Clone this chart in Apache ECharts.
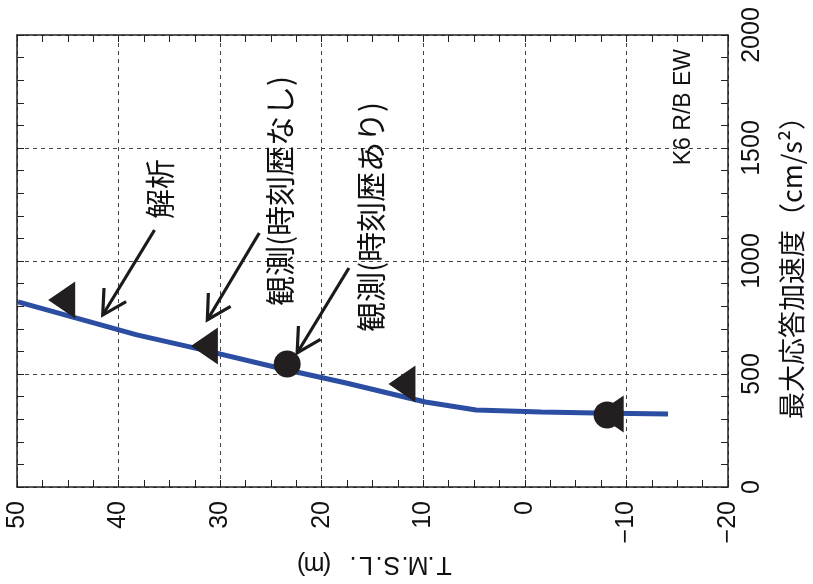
<!DOCTYPE html>
<html><head><meta charset="utf-8">
<script src="https://cdn.jsdelivr.net/npm/echarts@6/dist/echarts.min.js"></script>
<style>html,body{margin:0;padding:0;background:#fff}#c{width:813px;height:584px}</style>
</head><body><div id="c"></div>
<script>
// T.M.S.L. (m) vs max response acceleration (cm/s2)
const tmslTicks = [50, 40, 30, 20, 10, 0, -10, -20];
const accTicks = [0, 500, 1000, 1500, 2000];
const analysisTmsl = [49.9, 38.2, 31.7, 23.5, 17.6, 9.8, 4.8, -1.6, -6.9, -14.1];
const analysisAcc  = [819, 673, 607, 519, 460, 376, 341, 332, 327, 323];
const obsNoTHTmsl = [45.6, 31.55, 12.1, -8.4];
const obsNoTHAcc  = [827, 624, 456, 323];
const obsTHTmsl = [23.4, -8.1];
const obsTHAcc  = [544, 319];
// annotation arrows: [tailTmsl, tailAcc, tipTmsl, tipAcc]
const arrowTail = [[36.46, 1137], [26.15, 1124], [17.32, 969]];
const arrowTip  = [[41.56, 761], [31.26, 739], [22.42, 593]];
const labelTexts = ['解析', '観測(時刻歴なし)', '観測(時刻歴あり)', 'K6 R/B EW'];
const labelPos = [[35.97, 1319], [24.19, 1310], [15.16, 1195], [-15.65, 1681]];

const NUMF = '"Liberation Sans Narrow","Liberation Sans",sans-serif';
const CJK = '"Noto Sans CJK JP",sans-serif';
const fmt = v => (v < 0 ? '\u2212' + (-v) : '' + v);

const chart = echarts.init(document.getElementById('c'), null, {renderer: 'canvas'});
const axisLine = {show: true, onZero: false, lineStyle: {color: '#222', width: 1.5}};
const tick = {show: true, inside: true, length: 7, lineStyle: {color: '#222', width: 1}};
const minor = {show: true, length: 7, lineStyle: {color: '#222', width: 1}};
const split = {show: true, lineStyle: {color: '#444', width: 1, type: [4, 4]}};

const tmslName = 'T.M.S.L. (m)';
const tmslRich = tmslName.split('').map(c => '{c|' + (c === ' ' ? '\u00a0' : c) + '}').join('');

const option = {
  animation: false,
  backgroundColor: '#fff',
  grid: {left: 17, right: 81, top: 35, bottom: 97},
  xAxis: [{
    type: 'value', min: -20, max: 50, interval: 10, inverse: true, position: 'bottom',
    axisLine, axisTick: tick, minorTick: Object.assign({splitNumber: 4}, minor), splitLine: split,
    axisLabel: {rotate: 90, fontSize: 25, fontFamily: NUMF, color: '#111', margin: 14, formatter: fmt},
    name: tmslRich, nameLocation: 'middle', nameRotate: 180, nameGap: 64,
    nameTextStyle: {rich: {c: {width: 13, align: 'center', fontSize: 25, fontFamily: NUMF, color: '#111'}}}
  }, {
    type: 'value', min: -20, max: 50, interval: 10, inverse: true, position: 'top',
    axisLine, axisTick: tick, minorTick: Object.assign({splitNumber: 4}, minor), splitLine: {show: false},
    axisLabel: {show: false}
  }],
  yAxis: [{
    type: 'value', min: 0, max: 2000, interval: 500, position: 'right',
    axisLine, axisTick: tick, minorTick: Object.assign({splitNumber: 5}, minor), splitLine: split,
    axisLabel: {rotate: 90, fontSize: 25, fontFamily: NUMF, color: '#111', margin: 12, formatter: fmt},
    name: '最大応答加速度（cm/s²）', nameLocation: 'middle', nameRotate: 90, nameGap: 50,
    nameTextStyle: {fontSize: 27, fontFamily: CJK, color: '#111'}
  }, {
    type: 'value', min: 0, max: 2000, interval: 500, position: 'left',
    axisLine, axisTick: tick, minorTick: Object.assign({splitNumber: 5}, minor), splitLine: {show: false},
    axisLabel: {show: false}
  }],
  series: [{
    type: 'line', name: '解析', xAxisIndex: 0, yAxisIndex: 0,
    data: analysisTmsl.map((t, i) => [t, analysisAcc[i]]),
    showSymbol: false, lineStyle: {color: '#2c4ea2', width: 5}, z: 2
  }, {
    type: 'scatter', name: '観測(時刻歴なし)',
    data: obsNoTHTmsl.map((t, i) => [t, obsNoTHAcc[i]]),
    symbol: 'triangle', symbolSize: [37, 27], symbolRotate: 90,
    itemStyle: {color: '#231f20', opacity: 1}, z: 3
  }, {
    type: 'scatter', name: '観測(時刻歴あり)',
    data: obsTHTmsl.map((t, i) => [t, obsTHAcc[i]]),
    symbol: 'circle', symbolSize: 27,
    itemStyle: {color: '#231f20', opacity: 1}, z: 4
  }, {
    type: 'custom', name: 'arrows', clip: false, z: 5,
    data: arrowTail.map((a, i) => [a[0], a[1], arrowTip[i][0], arrowTip[i][1]]),
    encode: {x: [0, 2], y: [1, 3]},
    renderItem: function (params, api) {
      const p0 = api.coord([api.value(0), api.value(1)]);
      const p1 = api.coord([api.value(2), api.value(3)]);
      const ang = Math.atan2(p0[1] - p1[1], p0[0] - p1[0]);
      const L = 27, h = 0.5;
      const w1 = [p1[0] + L * Math.cos(ang + h), p1[1] + L * Math.sin(ang + h)];
      const w2 = [p1[0] + L * Math.cos(ang - h), p1[1] + L * Math.sin(ang - h)];
      const st = {stroke: '#1a1a1a', lineWidth: 3.2, fill: null, lineCap: 'butt', lineJoin: 'miter'};
      return {type: 'group', children: [
        {type: 'line', shape: {x1: p0[0], y1: p0[1], x2: p1[0], y2: p1[1]}, style: st},
        {type: 'polyline', shape: {points: [w1, p1, w2]}, style: st}
      ]};
    }
  }, {
    type: 'custom', name: 'labels', clip: false, z: 6,
    data: labelPos.map((p, i) => [p[0], p[1], i]),
    encode: {x: 0, y: 1},
    renderItem: function (params, api) {
      const p = api.coord([api.value(0), api.value(1)]);
      const i = api.value(2);
      const isK = i === 3;
      return {type: 'text', x: p[0], y: p[1], rotation: Math.PI / 2,
        style: {text: labelTexts[i], fill: '#111', align: 'center', verticalAlign: 'middle',
          font: isK ? ('23px ' + NUMF) : ('30px ' + CJK)}};
    }
  }]
};
chart.setOption(option);
</script></body></html>
